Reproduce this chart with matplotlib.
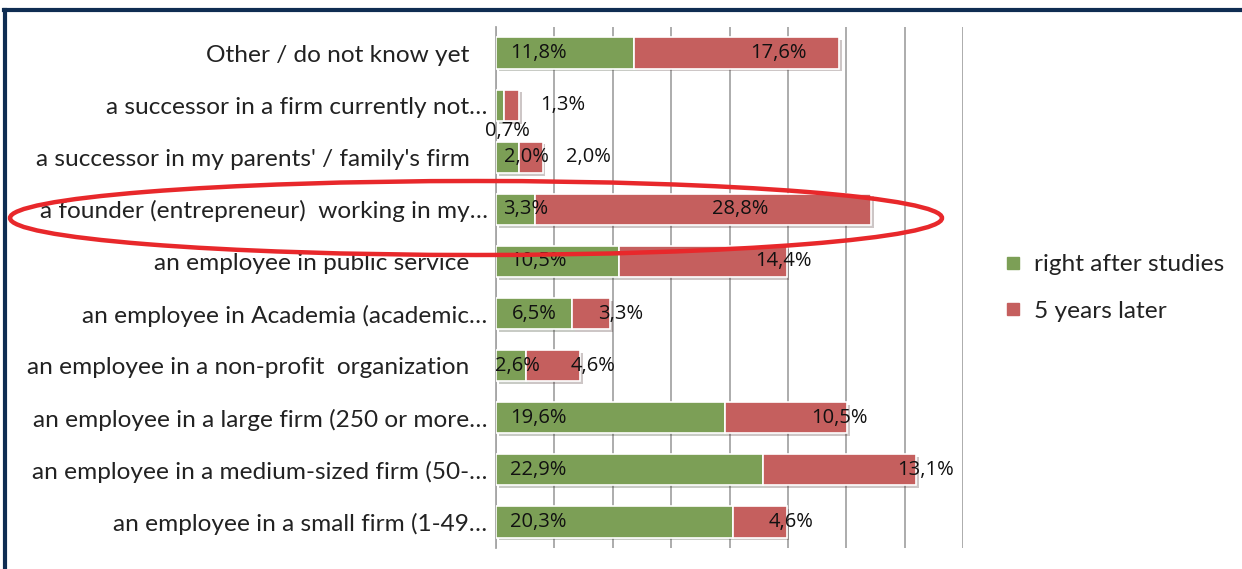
import matplotlib.pyplot as plt
import matplotlib.patheffects as pe
import matplotlib.transforms as mtransforms
from matplotlib.patches import Ellipse
from matplotlib.lines import Line2D

# categories listed top to bottom as in the chart
categories = [
    "Other / do not know yet",
    "a successor in a firm currently not\u2026",
    "a successor in my parents' / family's firm",
    "a founder (entrepreneur)  working in my\u2026",
    "an employee in public service",
    "an employee in Academia (academic\u2026",
    "an employee in a non-profit  organization",
    "an employee in a large firm (250 or more\u2026",
    "an employee in a medium-sized firm (50-\u2026",
    "an employee in a small firm (1-49\u2026",
]
right_after = [11.8, 0.7, 2.0, 3.3, 10.5, 6.5, 2.6, 19.6, 22.9, 20.3]
years_later = [17.6, 1.3, 2.0, 28.8, 14.4, 3.3, 4.6, 10.5, 13.1, 4.6]

# label placement nudges (in % units), mimicking the original Excel layout
green_lab_x = [3.6, 1.0, 2.6, 2.5, 3.6, 3.25, 1.8, 3.6, 3.6, 3.6]
green_lab_dy = [0, 0.5, 0, 0, 0, 0, 0, 0, 0, 0]
red_lab_dx = [-5.2, 3.7, 3.9, -11.2, -0.3, 0.9, 1.1, -0.7, 0.8, 0.4]

GREEN = "#7c9f56"
RED = "#c55f5e"
FONT = ["Lato", "DejaVu Sans"]
NUMFONT = ["Open Sans", "DejaVu Sans"]

fig = plt.figure(figsize=(12.42, 5.69), dpi=100)
W, H = 1242, 569
ax = fig.add_axes([496 / W, 1 - 548 / H, (963 - 496) / W, (548 - 27) / H])

y = list(range(len(categories)))
shadow = [pe.SimplePatchShadow(offset=(2, -2), alpha=0.25), pe.Normal()]
b1 = ax.barh(y, right_after, height=0.6, color=GREEN, edgecolor="white",
             linewidth=1.2, label="right after studies", zorder=3)
b2 = ax.barh(y, years_later, left=right_after, height=0.6, color=RED,
             edgecolor="white", linewidth=1.2, label="5 years later", zorder=3)
for b in list(b1) + list(b2):
    b.set_path_effects(shadow)

def fmt(v):
    return f"{v:.1f}%".replace(".", ",")

for i in y:
    ax.text(green_lab_x[i], i + green_lab_dy[i], fmt(right_after[i]), ha="center",
            va="center", fontsize=14.5, family=NUMFONT, color="#111111", zorder=5)
    end = right_after[i] + years_later[i]
    ax.text(end + red_lab_dx[i], i, fmt(years_later[i]), ha="center",
            va="center", fontsize=14.5, family=NUMFONT, color="#111111", zorder=5)

ax.set_xlim(0, 40)
ax.set_ylim(len(categories) - 0.5, -0.5)
ax.set_xticks(range(0, 41, 5))
ax.xaxis.grid(True, color="#a6a6a6", linewidth=1.3)
ax.set_axisbelow(True)
ax.tick_params(axis="x", length=0, labelbottom=False)
ax.tick_params(axis="y", length=0, pad=19)
ax.set_yticks(y)
ax.set_yticklabels(categories, fontsize=17.6, family=FONT, color="#222222")
# truncated labels sit a bit further right, as in the original
shift = mtransforms.ScaledTranslation(18 / 100, 0, fig.dpi_scale_trans)
for lab in ax.get_yticklabels():
    if lab.get_text().endswith("\u2026"):
        lab.set_transform(lab.get_transform() + shift)
for s in ["top", "right", "bottom"]:
    ax.spines[s].set_visible(False)
ax.spines["left"].set_color("#a6a6a6")
ax.spines["left"].set_linewidth(1.3)

# legend
handles = [Line2D([], [], marker="s", linestyle="", markersize=8, color=GREEN),
           Line2D([], [], marker="s", linestyle="", markersize=8, color=RED)]
fig.legend(handles, ["right after studies", "5 years later"], loc="center left",
           bbox_to_anchor=(979 / W, 1 - 288 / H), frameon=False,
           prop={"family": FONT, "size": 17.6}, labelspacing=1.05,
           handlelength=1.0, handletextpad=0.35, labelcolor="#222222")

# slide frame (top and left edges)
fig.add_artist(Line2D([4 / W, 1], [1 - 10 / H, 1 - 10 / H], color="#0f2d52",
                      linewidth=3, transform=fig.transFigure))
fig.add_artist(Line2D([5 / W, 5 / W], [0, 1 - 10 / H], color="#0f2d52",
                      linewidth=3, transform=fig.transFigure))

# red highlight ellipse around the founder row
fig.add_artist(Ellipse((476 / W, 1 - 218 / H), 932 / W, 74 / H,
                       transform=fig.transFigure, fill=False,
                       edgecolor="#e8282b", linewidth=3.2, zorder=10))

fig.savefig("out.png", dpi=100)
